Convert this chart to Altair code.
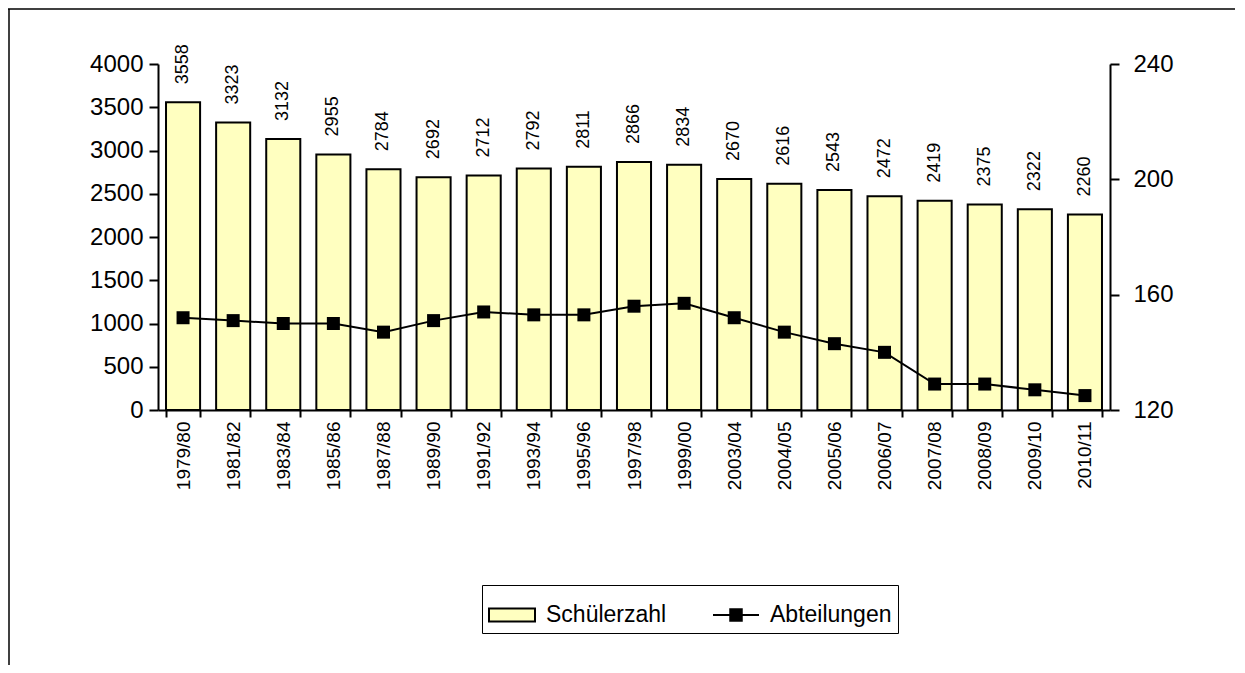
import altair as alt
import pandas as pd

years = ["1979/80", "1981/82", "1983/84", "1985/86", "1987/88", "1989/90", "1991/92",
         "1993/94", "1995/96", "1997/98", "1999/00", "2003/04", "2004/05", "2005/06",
         "2006/07", "2007/08", "2008/09", "2009/10", "2010/11"]
students = [3558, 3323, 3132, 2955, 2784, 2692, 2712, 2792, 2811, 2866, 2834, 2670,
            2616, 2543, 2472, 2419, 2375, 2322, 2260]
classes = [152, 151, 150, 150, 147, 151, 154, 153, 153, 156, 157, 152, 147, 143, 140,
           129, 129, 127, 125]
series_names = ["Schülerzahl", "Abteilungen"]

df = pd.DataFrame({"Jahr": years, "Schueler": students, "Abteilungen": classes})

FONT = "Liberation Sans"
W, H = 952, 346

x_enc = alt.X("Jahr:N", sort=years,
              scale=alt.Scale(paddingInner=0.32, paddingOuter=0.16),
              axis=alt.Axis(title=None, labelAngle=270, labelFontSize=19, tickBand="extent",
                            tickSize=7, labelPadding=4))

base = alt.Chart(df)

bars = base.mark_bar(fill="#FFFFC0", stroke="black", strokeWidth=2).encode(
    x=x_enc,
    y=alt.Y("Schueler:Q", scale=alt.Scale(domain=[0, 4000], nice=False),
            axis=alt.Axis(title=None, values=list(range(0, 4001, 500)), format="d", tickSize=9,
                          labelFontSize=24, labelPadding=6, orient="left")),
)
labels = base.mark_text(angle=270, align="left", baseline="middle", fontSize=18,
                        font=FONT, color="black", yOffset=-18).encode(
    x=alt.X("Jahr:N", sort=years),
    y=alt.Y("Schueler:Q"),
    text=alt.Text("Schueler:Q", format="d"),
)
left = alt.layer(bars, labels)

y2 = alt.Y("Abteilungen:Q", scale=alt.Scale(domain=[120, 240], nice=False),
           axis=alt.Axis(title=None, values=[120, 160, 200, 240], tickSize=9,
                         labelFontSize=24, labelPadding=14, orient="right"))

line = base.mark_line(color="black", strokeWidth=2).encode(
    x=alt.X("Jahr:N", sort=years), y=y2)
squares = base.mark_square(color="black", size=169, opacity=1).encode(
    x=alt.X("Jahr:N", sort=years), y=alt.Y("Abteilungen:Q"))

legend_df = pd.DataFrame({"Jahr": [years[0], years[0]], "Abteilungen": [classes[0], classes[0]],
                          "series": series_names})
legend_layer = alt.Chart(legend_df).transform_filter("false").mark_point(
    filled=True, opacity=1, strokeWidth=2).encode(
    x=alt.X("Jahr:N", sort=years),
    y=alt.Y("Abteilungen:Q"),
    fill=alt.Fill("series:N", title=None,
                  scale=alt.Scale(domain=series_names, range=["#FFFFC0", "black"])),
    stroke=alt.Stroke("series:N", title=None,
                      scale=alt.Scale(domain=series_names, range=["black", "black"])),
    shape=alt.Shape("series:N", title=None,
                    scale=alt.Scale(domain=series_names,
                                    range=["M-1,-0.28H1V0.28H-1Z",
                                           "M-1,0H1M-0.25,-0.25H0.25V0.25H-0.25Z"])),
)
right = alt.layer(line, squares, legend_layer)

frame_top = alt.Chart(pd.DataFrame({"k": [0]})).mark_rule(color="black", strokeWidth=1.5).encode(
    x=alt.value(-150), x2=alt.value(1100), y=alt.value(-55))
frame_left = alt.Chart(pd.DataFrame({"k": [0]})).mark_rule(color="black", strokeWidth=1.5).encode(
    x=alt.value(-149), y=alt.value(-55), y2=alt.value(620))

chart = alt.layer(left, right, frame_top, frame_left).resolve_scale(
    y="independent"
).properties(
    width=W, height=H,
    padding={"left": 150, "top": 56, "right": 125, "bottom": 255},
    autosize=alt.AutoSizeParams(type="none"),
).configure_view(stroke=None).configure_axis(
    grid=False, domainColor="black", domainWidth=2, tickColor="black", tickWidth=2,
    labelColor="black", labelFont=FONT,
).configure_legend(
    orient="none", legendX=324, legendY=521, direction="horizontal",
    fillColor="white", strokeColor="black", padding=6,
    labelFont=FONT, labelFontSize=23, labelColor="black", labelOffset=10,
    symbolSize=2116, symbolStrokeWidth=2,
    columnPadding=42,
)

chart.save("out.html", embed_options={"renderer": "svg", "actions": False})
